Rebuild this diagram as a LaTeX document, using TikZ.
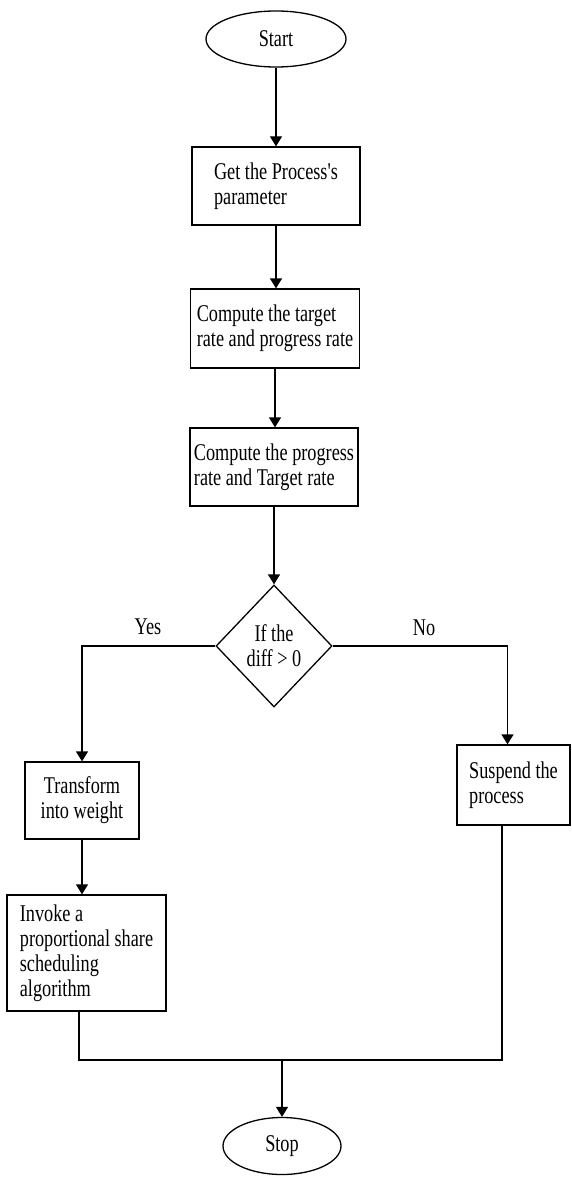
\documentclass[tikz,border=0pt]{standalone}
\usepackage{fontspec}
\setmainfont{Liberation Serif}[FakeStretch=0.76,Ligatures=TeXOff]
\usetikzlibrary{arrows.meta,shapes.geometric}
\begin{document}
\begin{tikzpicture}[x=1pt,y=-1pt,
  every node/.style={font=\fontsize{24}{25}\selectfont},
  line/.style={line width=1.3pt},
  arr/.style={line width=1.3pt, -{Triangle[width=12pt,length=10pt]}},
  stepbox/.style={draw, line width=1.3pt, rectangle, align=left, inner sep=2pt},
  term/.style={draw, line width=1.3pt, ellipse, inner sep=0pt},
  decide/.style={draw, line width=1.3pt, diamond, align=center, inner sep=0pt}
]
\useasboundingbox (0,0) rectangle (571,1177);

\node[term, minimum width=140pt, minimum height=56pt] (start) at (276,39) {Start};
\node[stepbox, minimum width=168pt, minimum height=78pt] (b1) at (276,186) {Get the Process's\\parameter};
\node[stepbox, minimum width=169pt, minimum height=79pt] (b2) at (275,328.5) {Compute the target\\rate and progress rate};
\node[stepbox, minimum width=168pt, minimum height=78pt] (b3) at (274,467) {Compute the progress\\rate and Target rate};
\node[decide, minimum width=116pt, minimum height=122pt] (dia) at (274,646) {If the\\diff > 0};
\node[stepbox, align=center, minimum width=114pt, minimum height=77pt] (tr) at (82,800.5) {Transform\\into weight};
\node[stepbox, minimum width=159pt, minimum height=116pt] (inv) at (86.5,953) {Invoke a\\proportional share\\scheduling\\algorithm};
\node[stepbox, minimum width=113pt, minimum height=80pt] (sus) at (513.5,785) {Suspend the\\process};
\node[term, minimum width=118pt, minimum height=57pt] (stop) at (282,1146) {Stop};

\node (yes) at (148,627) {Yes};
\node (no) at (424,628) {No};
\coordinate (j) at (282,1060);

\draw[arr] (start.south) -- (b1.north);
\draw[arr] (b1.south) -- (b1.south |- b2.north);
\draw[arr] (b2.south) -- (b2.south |- b3.north);
\draw[arr] (b3.south) -- (b3.south |- dia.north);
\draw[arr] (dia.west) -| (tr.north);
\draw[arr] (dia.east) -| ([xshift=-6pt]sus.north);
\draw[arr] (tr.south) -- (tr.south |- inv.north);
\draw[line] ([xshift=-7.5pt]inv.south) |- (j);
\draw[line] ([xshift=-11.5pt]sus.south) |- (j);
\draw[arr] (j) -- (stop.north);
\end{tikzpicture}
\end{document}
